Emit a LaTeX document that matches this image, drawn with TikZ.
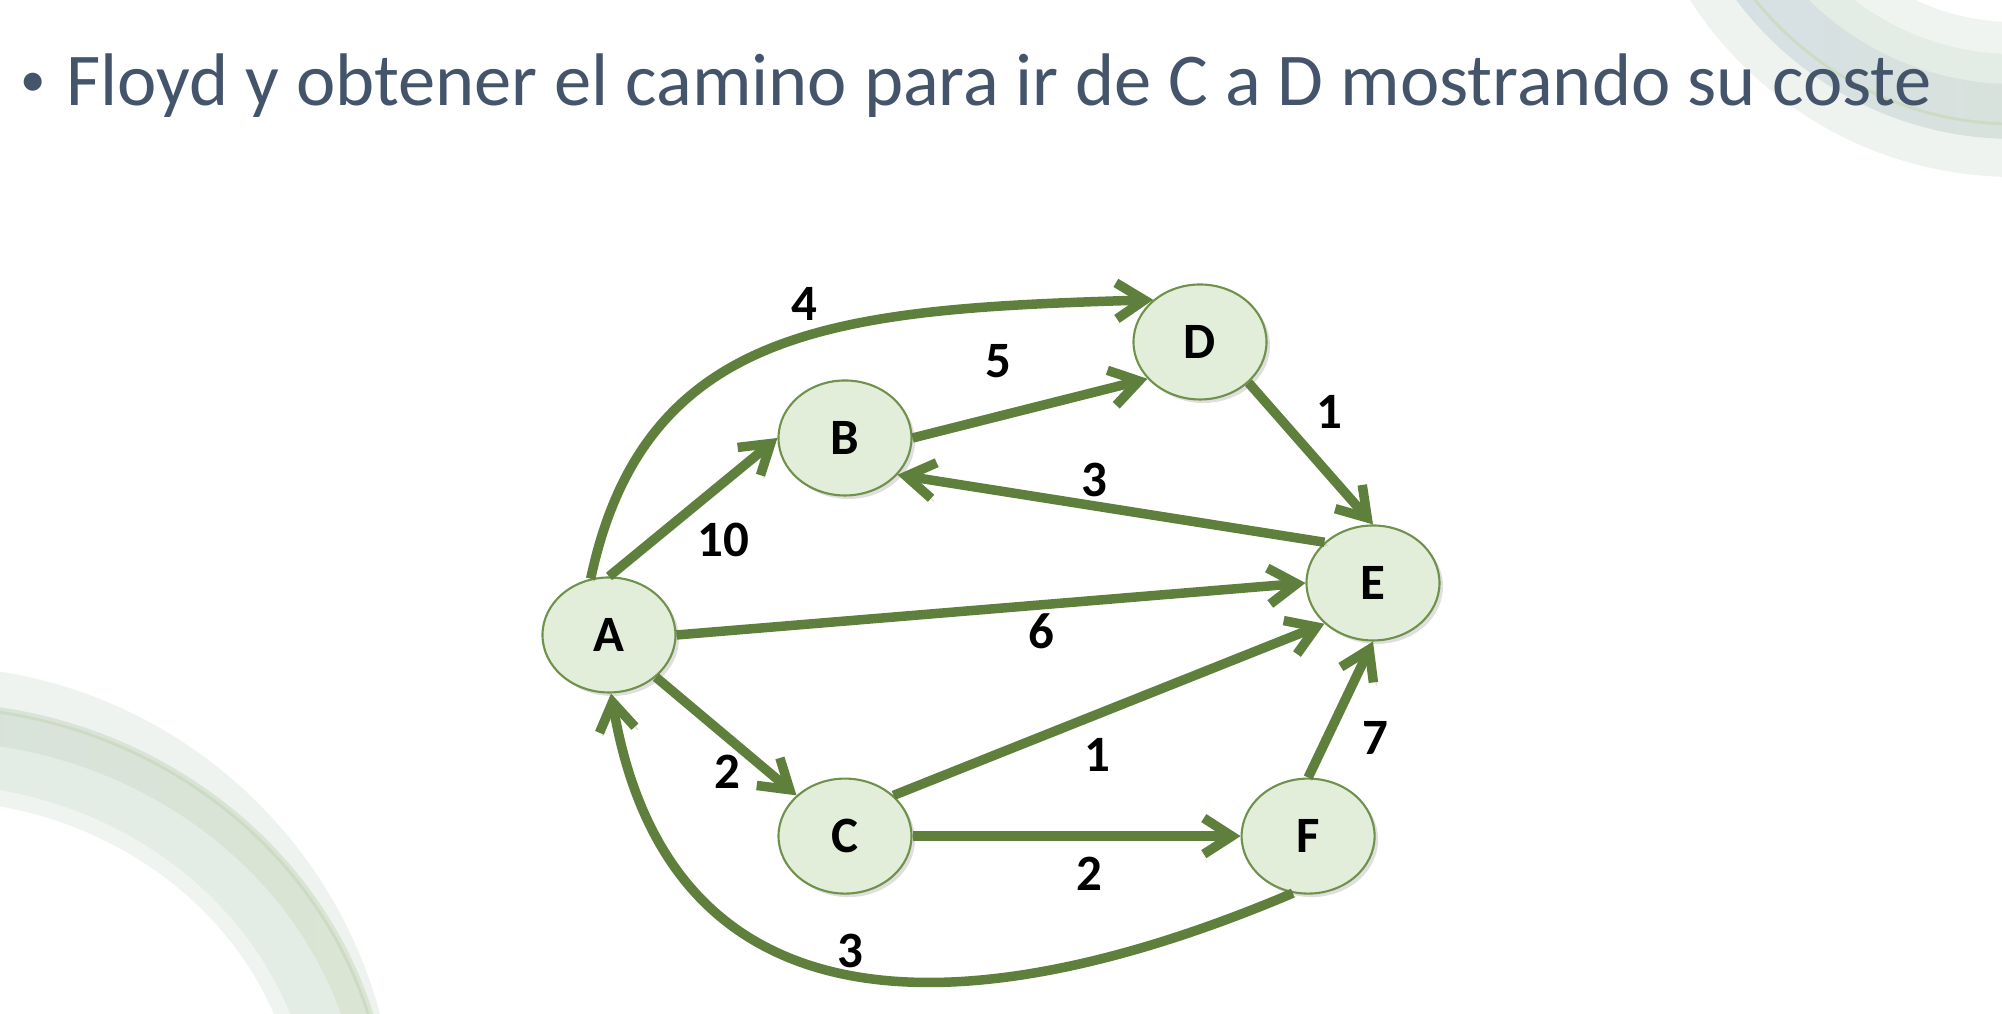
\documentclass[tikz,border=0pt]{standalone}
\usepackage{fontspec}
\setmainfont{Carlito}
\usetikzlibrary{shapes.geometric, arrows.meta, positioning, shadows}

\definecolor{edgegreen}{RGB}{95,128,60}
\definecolor{nodefill}{RGB}{227,238,218}
\definecolor{nodeline}{RGB}{110,145,75}
\definecolor{slate}{RGB}{68,84,106}
\definecolor{bandpale}{RGB}{239,243,239}
\definecolor{bandblue}{RGB}{214,223,230}
\definecolor{bandgreen}{RGB}{218,229,210}
\definecolor{bandline}{RGB}{204,219,196}
\definecolor{bandmid}{RGB}{228,236,230}
\definecolor{bandlight}{RGB}{239,244,240}

\tikzstyle{vertex} = [ellipse, draw=nodeline, line width=0.6pt, fill=nodefill, minimum width=1.33cm, minimum height=1.15cm, inner sep=0pt, font=\bfseries\fontsize{14.5}{16}\selectfont, drop shadow={opacity=0.25, shadow xshift=1pt, shadow yshift=-1pt}]
\tikzstyle{arrow} = [draw=edgegreen, line width=2.7pt, -{Straight Barb[length=2.8mm, width=3.6mm]}, preaction={draw=black, opacity=0.12, transform canvas={shift={(0.9pt,-0.9pt)}}}]
\tikzstyle{weight} = [font=\bfseries\fontsize{14.5}{16}\selectfont, inner sep=1pt]

\begin{document}
\begin{tikzpicture}
			\useasboundingbox (0,0) rectangle (20.02,10.14);
			% Background
			\begin{scope}
				\clip (0,0) rectangle (20.02,10.14);
				\fill[bandpale] (-0.73,-1.22) ellipse (4.69cm and 4.70cm);
				\shade[left color=bandblue, right color=bandgreen] (-0.73,-1.22) ellipse (4.65cm and 4.34cm);
				\draw[bandline, line width=0.8pt] (-0.73,-1.22) ellipse (4.60cm and 4.29cm);
				\fill[bandmid] (-0.73,-1.22) ellipse (4.35cm and 3.95cm);
				\fill[bandlight] (-0.73,-1.22) ellipse (3.87cm and 3.52cm);
				\fill[white] (-0.73,-1.22) ellipse (3.72cm and 3.36cm);
				\fill[bandpale] (20.14,12.22) circle (3.85);
				\shade[left color=bandblue, right color=bandgreen] (20.14,12.22) circle (3.47);
				\draw[bandline, line width=0.8pt] (20.14,12.22) circle (3.32);
				\fill[bandmid] (20.14,12.22) circle (2.92);
				\fill[bandlight] (20.14,12.22) circle (2.62);
				\fill[white] (20.14,12.22) circle (2.30);
			\end{scope}
			
			% Title
			\node (title) [anchor=base west, inner sep=0pt, text=slate, font=\fontsize{21.2}{25}\selectfont] at (0.2,9.08) {\makebox[0.46cm][l]{\raisebox{2.6pt}{\fontsize{14.5}{14}\selectfont\textbullet}}Floyd y obtener el camino para ir de C a D mostrando su coste};
			
			% Nodes
			\node (a) [vertex] at (6.09,3.79) {A};
			\node (b) [vertex] at (8.45,5.76) {B};
			\node (d) [vertex] at (12.00,6.72) {D};
			\node (e) [vertex] at (13.73,4.31) {E};
			\node (c) [vertex, below=2.81cm of b] {C};
			\node (f) [vertex, right=3.28cm of c] {F};
			
			% Arrows
			\draw [arrow] (a.108) .. controls (6.45,6.9) and (8.4,7.05) .. (d.138) node[weight, pos=0.55, yshift=0.33cm] (wad) {4};
			\draw [arrow] (a.90) -- (b.180) node[weight, midway, xshift=0.30cm, yshift=-0.33cm] (wab) {10};
			\draw [arrow] (b.0) -- (d.215) node[weight, midway, xshift=-0.32cm, yshift=0.47cm] (wbd) {5};
			\draw [arrow] (e.140) -- (b.325) node[weight, midway, xshift=-0.17cm, yshift=0.29cm] (web) {3};
			\draw [arrow] (d.320) -- (e.90) node[weight, midway, xshift=0.19cm, yshift=0.42cm] (wde) {1};
			\draw [arrow] (a.0) -- (e.180) node[weight, midway, xshift=0.50cm, yshift=-0.22cm] (wae) {6};
			\draw [arrow] (c.40) -- (e.220) node[weight, midway, xshift=-0.12cm, yshift=-0.45cm] (wce) {1};
			\draw [arrow] (c.0) -- (f.180) node[weight, midway, xshift=0.13cm, yshift=-0.38cm] (wcf) {2};
			\draw [arrow] (f.90) -- (e.270) node[weight, midway, xshift=0.345cm, yshift=-0.285cm] (wfe) {7};
			\draw [arrow] (a.318) -- (c.140) node[weight, midway, xshift=0.01cm, yshift=-0.36cm] (wac) {2};
			\draw [arrow] (f.255) .. controls (10.2,0.05) and (6.75,-0.55) .. (a.272) node[weight, pos=0.53, yshift=0.23cm] (wfa) {3};
		\end{tikzpicture}
\end{document}
